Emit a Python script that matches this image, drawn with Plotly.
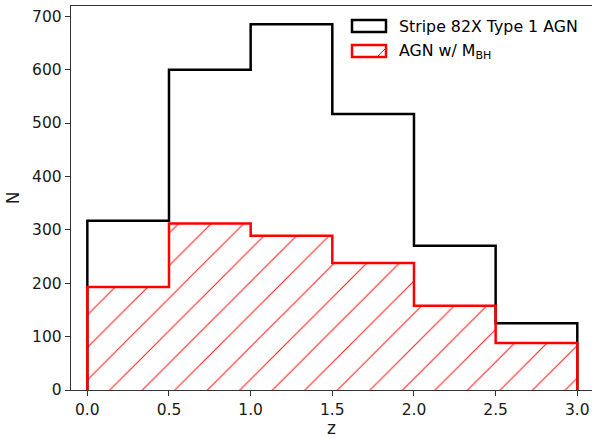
import plotly.graph_objects as go

bin_edges = [0.0, 0.5, 1.0, 1.5, 2.0, 2.5, 3.0]
all_counts = [317, 600, 685, 517, 270, 125]
mbh_counts = [193, 312, 289, 238, 158, 88]
series_names = ["Stripe 82X Type 1 AGN", "AGN w/ M<sub>BH</sub>"]
x_ticks = [0.0, 0.5, 1.0, 1.5, 2.0, 2.5, 3.0]
y_ticks = [0, 100, 200, 300, 400, 500, 600, 700]


def step_path(edges, counts):
    xs = [edges[0]] + list(edges[:-1]) + [edges[-1], edges[-1]]
    ys = [0] + list(counts) + [counts[-1], 0]
    return xs, ys


centers = [(a + b) / 2 for a, b in zip(bin_edges[:-1], bin_edges[1:])]
widths = [b - a for a, b in zip(bin_edges[:-1], bin_edges[1:])]

fig = go.Figure()

fig.add_trace(go.Bar(
    x=centers, y=mbh_counts, width=widths,
    marker=dict(color="rgba(0,0,0,0)", line=dict(width=0),
                pattern=dict(shape="/", fgcolor="#ff0000", bgcolor="rgba(0,0,0,0)",
                             fgopacity=0.9, size=23, solidity=0.045)),
    showlegend=False, hoverinfo="skip"))

bx, by = step_path(bin_edges, all_counts)
fig.add_trace(go.Scatter(x=bx, y=by, mode="lines", line=dict(color="black", width=2.5, shape="hv"),
                         showlegend=False, cliponaxis=False, hoverinfo="skip"))
rx, ry = step_path(bin_edges, mbh_counts)
fig.add_trace(go.Scatter(x=rx, y=ry, mode="lines", line=dict(color="red", width=2.5, shape="hv"),
                         showlegend=False, cliponaxis=False, hoverinfo="skip"))

# legend (manual, matplotlib-style patches)
W, H = 592, 438
ml, mr, mt, mb = 71, 0, 6, 48
pw, ph = W - ml - mr, H - mt - mb


def px2paper(x, y):
    return (x - ml) / pw, 1 - (y - mt) / ph


shapes = []
for (x0, y0, x1, y1, col) in [(352, 20, 386, 32, "black"), (352, 45, 386, 57, "red")]:
    a0, b0 = px2paper(x0, y0)
    a1, b1 = px2paper(x1, y1)
    shapes.append(dict(type="rect", xref="paper", yref="paper", x0=a0, x1=a1, y0=b1, y1=b0,
                       line=dict(color=col, width=2.5), fillcolor="white", layer="above"))
d0 = px2paper(377, 57)
d1 = px2paper(386, 48)
shapes.append(dict(type="line", xref="paper", yref="paper", x0=d0[0], y0=d0[1], x1=d1[0], y1=d1[1],
                   line=dict(color="red", width=1), layer="above"))

annotations = []
for (ty, name) in [(26, series_names[0]), (51, series_names[1])]:
    ax, ay = px2paper(397, ty)
    annotations.append(dict(x=ax, y=ay, xref="paper", yref="paper", text=name, showarrow=False,
                            xanchor="left", yanchor="middle",
                            font=dict(family="DejaVu Sans", size=15.8, color="black")))

fig.update_layout(
    width=W, height=H,
    margin=dict(l=ml, r=mr, t=mt, b=mb),
    paper_bgcolor="white", plot_bgcolor="white",
    bargap=0, barmode="overlay",
    showlegend=False,
    font=dict(family="DejaVu Sans", size=15.5, color="#1a1a1a"),
    shapes=shapes, annotations=annotations,
    xaxis=dict(range=[-0.1, 3.09], tickvals=x_ticks, tickformat=".1f",
               showline=True, linecolor="#333333", linewidth=1.2, mirror=True,
               ticks="outside", ticklen=5, tickcolor="#333333", showgrid=False, zeroline=False,
               title=dict(text="z", font=dict(size=17), standoff=2)),
    yaxis=dict(range=[0, 719.25], tickvals=y_ticks,
               showline=True, linecolor="#333333", linewidth=1.2, mirror=False,
               ticks="outside", ticklen=5, tickcolor="#333333", showgrid=False, zeroline=False,
               title=dict(text="N", font=dict(size=17), standoff=8)),
)

fig.write_html("out.html", config={"displayModeBar": False, "staticPlot": True},
               post_script="document.body.style.margin='0';document.body.style.overflow='hidden';")
